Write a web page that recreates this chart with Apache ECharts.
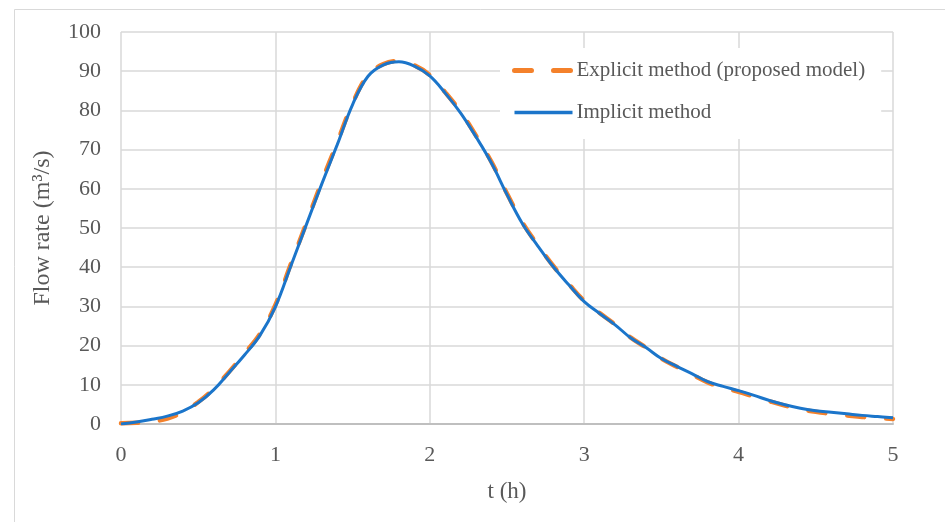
<!DOCTYPE html>
<html>
<head>
<meta charset="utf-8">
<script src="https://cdn.jsdelivr.net/npm/echarts@6/dist/echarts.min.js"></script>
<style>
html,body{margin:0;padding:0;background:#fff;}
#chart{width:945px;height:522px;}
</style>
</head>
<body>
<div id="chart"></div>
<script>
// Time (h), sampled every 0.1 h
const times = [0,0.1,0.2,0.3,0.4,0.5,0.6,0.7,0.8,0.9,1.0,1.1,1.2,1.3,1.4,1.5,1.6,1.7,1.8,1.9,2.0,2.1,2.2,2.3,2.4,2.5,2.6,2.7,2.8,2.9,3.0,3.1,3.2,3.3,3.4,3.5,3.6,3.7,3.8,3.9,4.0,4.1,4.2,4.3,4.4,4.5,4.6,4.7,4.8,4.9,5.0];

// Flow rate (m3/s), explicit scheme (proposed model)
const explicitFlow = [0.2,0.3,0.6,1.4,3.0,5.6,9.0,13.3,18.0,23.0,30.4,40.8,51.2,61.8,71.8,81.8,89.0,91.8,92.6,91.5,89.0,84.6,79.6,73.5,66.8,58.8,51.4,45.6,40.3,35.7,31.4,28.3,25.4,22.1,19.5,16.7,14.6,12.6,10.6,9.3,8.2,7.0,5.8,4.7,3.8,3.1,2.6,2.2,1.8,1.5,1.3];

// Flow rate (m3/s), implicit scheme
const implicitFlow = [0,0.5,1.2,2.0,3.3,5.4,8.7,13.1,17.6,22.6,29.9,40.3,50.8,61.2,71.2,81.5,88.7,91.6,92.4,91.3,88.8,84.4,79.3,73.2,66.5,58.5,51.1,45.4,40.1,35.5,31.2,28.2,25.3,22.0,19.5,16.7,14.7,12.8,10.8,9.6,8.5,7.3,6.0,4.9,4.0,3.4,3.0,2.6,2.2,1.9,1.6];

const seriesNames = ['Explicit method (proposed model)', 'Implicit method'];

const pairs = (vals) => times.map((t, i) => [t, vals[i]]);

const FONT = '"Liberation Serif", "DejaVu Serif", serif';
const TXT = '#595959';
const ORANGE = '#F4812B';
const BLUE = '#1B75CA';
const DASH = [17, 22];

const chart = echarts.init(document.getElementById('chart'), null, {renderer: 'canvas'});
chart.setOption({
  animation: false,
  backgroundColor: '#fff',
  graphic: [{
    type: 'rect',
    shape: {x: 14.5, y: 9.5, width: 1000, height: 600},
    style: {fill: 'none', stroke: '#D9D9D9', lineWidth: 1},
    silent: true, z: -1
  }],
  grid: {left: 121, right: 52, top: 32, bottom: 98},
  legend: {
    orient: 'vertical',
    left: 500, top: 48,
    itemWidth: 58, itemHeight: 14, itemGap: 21,
    padding: [12, 16, 16, 12],
    backgroundColor: '#fff',
    icon: 'inherit',
    itemStyle: {opacity: 0},
    textStyle: {fontFamily: FONT, fontSize: 21, color: TXT, padding: [0, 0, 0, -1]},
    data: [
      {name: seriesNames[0], lineStyle: {width: 5, color: ORANGE, type: DASH, cap: 'round'}},
      {name: seriesNames[1], lineStyle: {width: 3.5, color: BLUE, type: 'solid'}}
    ]
  },
  xAxis: {
    type: 'value', min: 0, max: 5, interval: 1,
    name: 't (h)', nameLocation: 'middle', nameGap: 56,
    nameTextStyle: {fontFamily: FONT, fontSize: 23, color: TXT},
    axisLine: {show: true, lineStyle: {color: '#BFBFBF', width: 2}},
    axisTick: {show: false},
    axisLabel: {margin: 20, fontFamily: FONT, fontSize: 22, color: TXT},
    splitLine: {show: true, lineStyle: {color: '#D9D9D9', width: 1.5}}
  },
  yAxis: {
    type: 'value', min: 0, max: 100, interval: 10,
    name: 'Flow rate (m³/s)', nameLocation: 'middle', nameGap: 66,
    nameTextStyle: {fontFamily: FONT, fontSize: 24, color: TXT},
    axisLine: {show: false},
    axisTick: {show: false},
    axisLabel: {margin: 20, fontFamily: FONT, fontSize: 22, color: TXT},
    splitLine: {show: true, lineStyle: {color: '#D9D9D9', width: 1.5}}
  },
  series: [
    {
      name: seriesNames[0], type: 'line', data: pairs(explicitFlow),
      smooth: 0.4, symbol: 'none', z: 2,
      itemStyle: {color: ORANGE},
      lineStyle: {color: ORANGE, width: 4.5, type: DASH, cap: 'round'}
    },
    {
      name: seriesNames[1], type: 'line', data: pairs(implicitFlow),
      smooth: 0.4, symbol: 'none', z: 3,
      itemStyle: {color: BLUE},
      lineStyle: {color: BLUE, width: 3}
    }
  ]
});
</script>
</body>
</html>
